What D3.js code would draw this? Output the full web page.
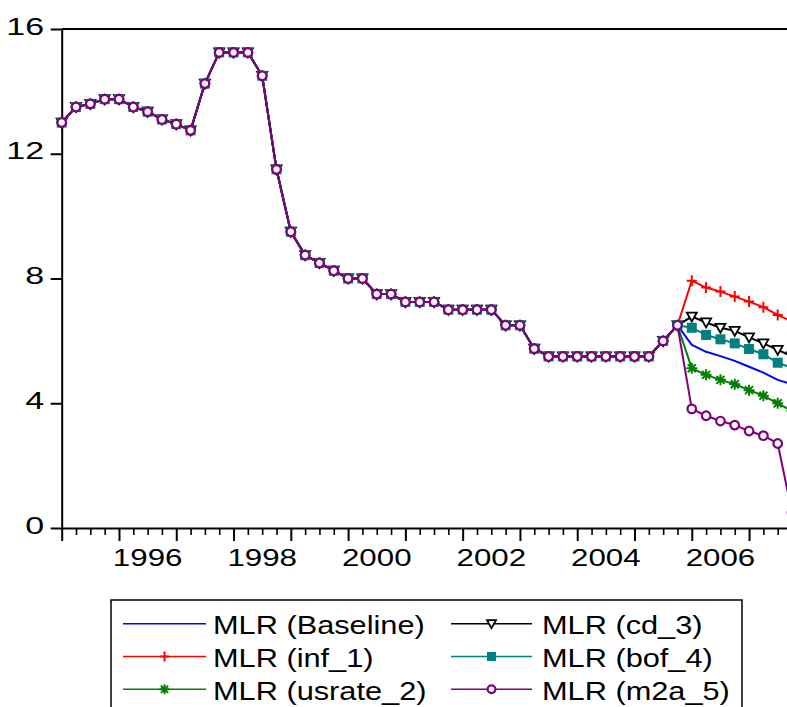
<!DOCTYPE html>
<html><head><meta charset="utf-8">
<script src="https://cdn.jsdelivr.net/npm/d3@7"></script>
<style>html,body{margin:0;padding:0;background:#fff;} svg{display:block;}</style>
</head><body>
<svg id="chart" width="787" height="707"></svg>
<script>
// ---- data ----
const quarters = [
  "1995Q1","1995Q2","1995Q3","1995Q4","1996Q1","1996Q2","1996Q3","1996Q4",
  "1997Q1","1997Q2","1997Q3","1997Q4","1998Q1","1998Q2","1998Q3","1998Q4",
  "1999Q1","1999Q2","1999Q3","1999Q4","2000Q1","2000Q2","2000Q3","2000Q4",
  "2001Q1","2001Q2","2001Q3","2001Q4","2002Q1","2002Q2","2002Q3","2002Q4",
  "2003Q1","2003Q2","2003Q3","2003Q4","2004Q1","2004Q2","2004Q3","2004Q4",
  "2005Q1","2005Q2","2005Q3","2005Q4","2006Q1","2006Q2","2006Q3","2006Q4",
  "2007Q1","2007Q2","2007Q3","2007Q4"
];
const history = [13.0, 13.5, 13.6, 13.75, 13.75, 13.5, 13.35, 13.1, 12.95, 12.75,
  14.25, 15.25, 15.25, 15.25, 14.5, 11.5, 9.5, 8.75, 8.5, 8.25, 8.0, 8.0, 7.5, 7.5,
  7.25, 7.25, 7.25, 7.0, 7.0, 7.0, 7.0, 6.5, 6.5, 5.75, 5.5, 5.5, 5.5, 5.5, 5.5, 5.5,
  5.5, 5.5, 6.0, 6.5];
const fcBaseline = [5.87, 5.65, 5.51, 5.36, 5.17, 4.98, 4.75, 4.61];
const fcInf1     = [7.93, 7.71, 7.58, 7.42, 7.26, 7.08, 6.83, 6.62];
const fcUsrate2  = [5.12, 4.91, 4.75, 4.61, 4.42, 4.24, 4.00, 3.75];
const fcCd3      = [6.78, 6.59, 6.42, 6.32, 6.11, 5.92, 5.71, 5.50];
const fcBof4     = [6.42, 6.19, 6.05, 5.92, 5.74, 5.57, 5.30, 5.13];
const fcM2a5     = [3.82, 3.60, 3.43, 3.30, 3.11, 2.96, 2.71, 0.50];
const seriesNames = ["MLR (Baseline)", "MLR (inf_1)", "MLR (usrate_2)", "MLR (cd_3)", "MLR (bof_4)", "MLR (m2a_5)"];
const yTicks = [0, 4, 8, 12, 16];
const yearLabels = ["1996", "1998", "2000", "2002", "2004", "2006"];

// ---- styles ----
const colors = ["#0000ff", "#ff0000", "#008000", "#000000", "#008080", "#800080"];
const markers = ["none", "plus", "star", "tri", "square", "circle"];
const FONT = "'Liberation Sans', Arial, Helvetica, sans-serif";

const forecasts = [fcBaseline, fcInf1, fcUsrate2, fcCd3, fcBof4, fcM2a5];
const series = seriesNames.map((name, k) => ({
  name, color: colors[k], marker: markers[k], values: history.concat(forecasts[k])
}));

const svg = d3.select("#chart");
const x0 = 61.7, step = 14.32;
const x = d3.scalePoint().domain(quarters).range([x0, x0 + step * (quarters.length - 1)]);
const y = d3.scaleLinear().domain([0, 16]).range([528, 29]);

// frame top line
svg.append("line").attr("x1", x0).attr("x2", 800).attr("y1", y(16)).attr("y2", y(16))
  .attr("stroke", "#000").attr("stroke-width", 2);

// y axis
const gy = svg.append("g").attr("transform", `translate(${x0},0)`)
  .call(d3.axisLeft(y).tickValues(yTicks).tickSize(11).tickSizeOuter(0).tickFormat(d3.format("d")));
gy.select(".domain").attr("stroke-width", 2);
gy.selectAll(".tick line").attr("stroke-width", 2);
gy.selectAll(".tick text").attr("x", null).attr("dy", null)
  .attr("transform", "translate(-17.5,5) scale(1.46,1)")
  .attr("text-anchor", "end").attr("fill", "#000")
  .style("font-family", FONT).style("font-size", "23.3px");

// x axis
const gx = svg.append("g").attr("transform", `translate(0,${y(0)})`)
  .call(d3.axisBottom(x).tickValues(quarters).tickSize(7).tickSizeOuter(0).tickFormat(""));
gx.select(".domain").attr("stroke-width", 2);
gx.selectAll(".tick line").attr("stroke-width", 1.6)
  .filter(d => d.endsWith("Q1")).attr("y2", 13).attr("stroke-width", 2);
gx.selectAll(".tick text").remove();

svg.append("g").selectAll("text").data(yearLabels).join("text")
  .attr("transform", d => `translate(${x(d + "Q3")},566) scale(1.32,1)`)
  .attr("text-anchor", "middle")
  .style("font-family", FONT).style("font-size", "23.7px").attr("fill", "#000")
  .text(d => d);

// marker drawing
function drawMarker(sel, type, color, s) {
  s = s || 1;
  if (type === "plus") {
    sel.append("path").attr("d", `M${-5*s},0H${5*s}M0,${-5.5*s}V${5.5*s}`)
      .attr("stroke", color).attr("stroke-width", 2).attr("fill", "none");
  } else if (type === "star") {
    sel.append("path").attr("d",
      `M${-5.5*s},0H${5.5*s}M0,${-5.5*s}V${5.5*s}M${-4*s},${-4*s}L${4*s},${4*s}M${-4*s},${4*s}L${4*s},${-4*s}`)
      .attr("stroke", color).attr("stroke-width", 2).attr("fill", "none");
  } else if (type === "tri") {
    sel.append("path").attr("d", `M${-5*s},${-4*s}L${5*s},${-4*s}L0,${5*s}Z`)
      .attr("stroke", color).attr("stroke-width", 1.8).attr("fill", "#fff");
  } else if (type === "square") {
    sel.append("rect").attr("x", -5*s).attr("y", -5*s).attr("width", 10*s).attr("height", 10*s)
      .attr("fill", color);
  } else if (type === "circle") {
    sel.append("circle").attr("r", 4.3*s).attr("fill", "#fff")
      .attr("stroke", color).attr("stroke-width", 2.2);
  }
}

const line = d3.line().x((d, i) => x(quarters[i])).y(d => y(d));
const plot = svg.append("g");
series.forEach(s => {
  const g = plot.append("g");
  g.append("path").attr("d", line(s.values)).attr("fill", "none")
    .attr("stroke", s.color).attr("stroke-width", 2).attr("stroke-linejoin", "round");
  if (s.marker !== "none") {
    s.values.forEach((v, i) => {
      const m = g.append("g").attr("transform", `translate(${x(quarters[i])},${y(v)})`);
      drawMarker(m, s.marker, s.color, 1);
    });
  }
});

// legend
const lg = svg.append("g");
lg.append("rect").attr("x", 111).attr("y", 600).attr("width", 631).attr("height", 130)
  .attr("fill", "#fff").attr("stroke", "#000").attr("stroke-width", 1.5);
const colX = [[123, 206, 213], [451, 532, 542]];
series.forEach((s, k) => {
  const col = Math.floor(k / 3), row = k % 3;
  const ly = 623.7 + row * 32.8;
  const [a, b, tx] = colX[col];
  lg.append("line").attr("x1", a).attr("x2", b).attr("y1", ly).attr("y2", ly)
    .attr("stroke", s.color).attr("stroke-width", 1.6);
  const m = lg.append("g").attr("transform", `translate(${(a + b) / 2},${ly})`);
  drawMarker(m, s.marker, s.color, 0.9);
  lg.append("text").attr("transform", `translate(${tx},${ly + 10.3}) scale(1.16,1)`)
    .style("font-family", FONT).style("font-size", "26.5px").attr("fill", "#000")
    .text(s.name);
});
</script>
</body></html>
